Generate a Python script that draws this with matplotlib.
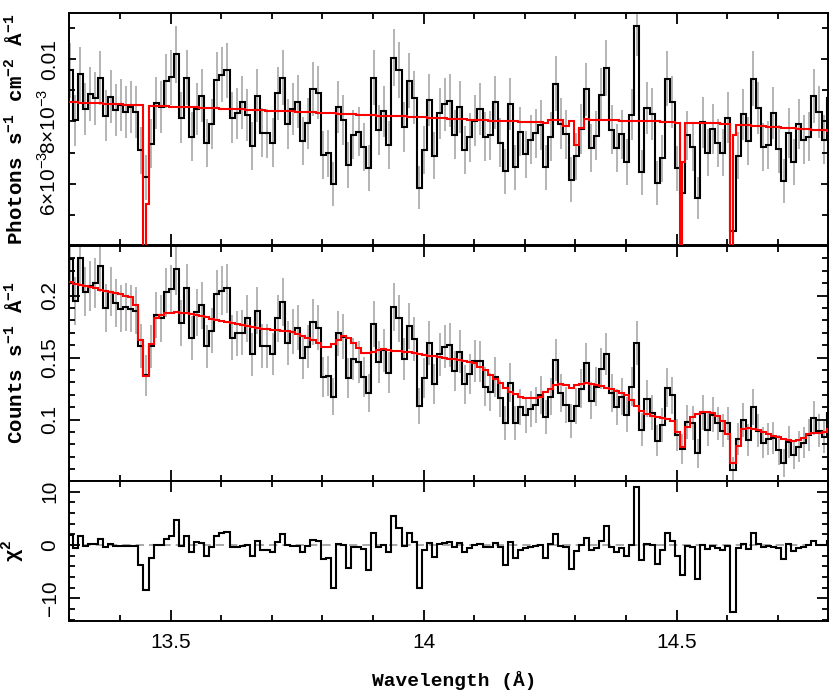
import numpy as np
import matplotlib
matplotlib.use("Agg")
import matplotlib.pyplot as plt
from matplotlib.ticker import FixedLocator, MultipleLocator

plt.rcParams['font.family'] = ['Liberation Sans', 'DejaVu Sans']
plt.rcParams['mathtext.fontset'] = 'custom'
plt.rcParams['mathtext.rm'] = 'Liberation Mono:bold'
plt.rcParams['mathtext.sf'] = 'Liberation Sans'

# wavelength grid: 0.01 A bins, first edge just left of 13.3
lam_first_edge = 13.2966
bin_width = 0.01

# unfolded spectrum (photons/s/cm2/A)
top_flux = [
    0.00964, 0.00804, 0.00952, 0.00841, 0.00888, 0.00875, 0.00940, 0.00819, 0.00880, 0.00838,
    0.00852, 0.00830, 0.00847, 0.00830, 0.00707, 0.00620, 0.00729, 0.00859, 0.00846, 0.00930,
    0.00942, 0.01016, 0.00812, 0.00941, 0.00751, 0.00839, 0.00883, 0.00730, 0.00791, 0.00934,
    0.00950, 0.00964, 0.00812, 0.00826, 0.00861, 0.00821, 0.00721, 0.00883, 0.00764, 0.00762,
    0.00732, 0.00890, 0.00941, 0.00792, 0.00840, 0.00864, 0.00737, 0.00794, 0.00905, 0.00893,
    0.00692, 0.00698, 0.00598, 0.00845, 0.00805, 0.00660, 0.00757, 0.00767, 0.00719, 0.00650,
    0.00941, 0.00773, 0.00832, 0.00725, 0.01005, 0.00966, 0.00781, 0.00931, 0.00877, 0.00587,
    0.00708, 0.00869, 0.00689, 0.00826, 0.00855, 0.00867, 0.00757, 0.00845, 0.00708, 0.00749,
    0.00802, 0.00839, 0.00751, 0.00755, 0.00861, 0.00732, 0.00639, 0.00856, 0.00652, 0.00767,
    0.00695, 0.00741, 0.00762, 0.00789, 0.00652, 0.00750, 0.00922, 0.00793, 0.00759, 0.00613,
    0.00688, 0.00776, 0.00903, 0.00715, 0.00754, 0.00886, 0.00972, 0.00774, 0.00715, 0.00759,
    0.00670, 0.00822, 0.01107, 0.00636, 0.00842, 0.00824, 0.00603, 0.00681, 0.00938, 0.00862,
    0.00649, 0.00570, 0.00756, 0.00718, 0.00555, 0.00797, 0.00699, 0.00776, 0.00731, 0.00699,
    0.00812, 0.00446, 0.00690, 0.00823, 0.00737, 0.00938, 0.00844, 0.00718, 0.00724, 0.00827,
    0.00712, 0.00609, 0.00763, 0.00669, 0.00791, 0.00741, 0.00750, 0.00882, 0.00831, 0.00741,
    0.00874]

top_model = [
    0.00862, 0.00861, 0.00860, 0.00860, 0.00859, 0.00858, 0.00858, 0.00857, 0.00856, 0.00856,
    0.00855, 0.00854, 0.00854, 0.00853, 0.00852, 0.00852, 0.00851, 0.00850, 0.00850, 0.00849,
    0.00848, 0.00848, 0.00847, 0.00846, 0.00846, 0.00845, 0.00844, 0.00844, 0.00843, 0.00842,
    0.00841, 0.00841, 0.00840, 0.00839, 0.00839, 0.00838, 0.00837, 0.00837, 0.00836, 0.00835,
    0.00835, 0.00834, 0.00833, 0.00833, 0.00832, 0.00831, 0.00830, 0.00830, 0.00829, 0.00828,
    0.00828, 0.00827, 0.00826, 0.00825, 0.00825, 0.00824, 0.00823, 0.00822, 0.00822, 0.00821,
    0.00820, 0.00819, 0.00819, 0.00818, 0.00817, 0.00816, 0.00816, 0.00815, 0.00814, 0.00813,
    0.00813, 0.00812, 0.00811, 0.00810, 0.00810, 0.00809, 0.00808, 0.00808, 0.00807, 0.00806,
    0.00805, 0.00805, 0.00804, 0.00803, 0.00803, 0.00802, 0.00801, 0.00800, 0.00800, 0.00799,
    0.00798, 0.00798, 0.00797, 0.00797, 0.00796, 0.00806, 0.00806, 0.00806, 0.00786, 0.00803,
    0.00724, 0.00778, 0.00807, 0.00806, 0.00806, 0.00805, 0.00805, 0.00804, 0.00804, 0.00803,
    0.00803, 0.00802, 0.00802, 0.00801, 0.00801, 0.00800, 0.00800, 0.00799, 0.00799, 0.00798,
    0.00795, 0.00795, 0.00795, 0.00795, 0.00795, 0.00794, 0.00794, 0.00794, 0.00794, 0.00793,
    0.00793, 0.00793, 0.00789, 0.00788, 0.00787, 0.00786, 0.00785, 0.00784, 0.00783, 0.00782,
    0.00781, 0.00780, 0.00779, 0.00778, 0.00777, 0.00776, 0.00775, 0.00774, 0.00772, 0.00771,
    0.00769]

# the narrow absorption lines are resolved in half bins
line_bins = [15, 121, 131]
line_first_half = [0.0030, 0.0030, 0.0030]
line_second_half = [0.00535, 0.00669, 0.00757]

# count-rate spectrum (counts/s/A)
mid_rate = [
    0.2297, 0.1958, 0.2303, 0.2029, 0.2077, 0.2103, 0.2239, 0.1900, 0.2029, 0.1942,
    0.1894, 0.1910, 0.1894, 0.1877, 0.1594, 0.1355, 0.1590, 0.1843, 0.1815, 0.2025,
    0.2050, 0.2210, 0.1775, 0.2057, 0.1655, 0.1865, 0.1920, 0.1590, 0.1716, 0.2012,
    0.2039, 0.2058, 0.1660, 0.1695, 0.1700, 0.1816, 0.1526, 0.1878, 0.1593, 0.1593,
    0.1528, 0.1816, 0.1950, 0.1620, 0.1708, 0.1741, 0.1499, 0.1587, 0.1789, 0.1741,
    0.1340, 0.1351, 0.1184, 0.1695, 0.1668, 0.1337, 0.1485, 0.1464, 0.1345, 0.1211,
    0.1767, 0.1466, 0.1560, 0.1378, 0.1910, 0.1816, 0.1488, 0.1754, 0.1649, 0.1109,
    0.1332, 0.1620, 0.1286, 0.1526, 0.1587, 0.1601, 0.1390, 0.1547, 0.1284, 0.1367,
    0.1473, 0.1468, 0.1265, 0.1224, 0.1345, 0.1171, 0.0975, 0.1297, 0.0975, 0.1103,
    0.1036, 0.1082, 0.1117, 0.1198, 0.1020, 0.1184, 0.1481, 0.1216, 0.1119, 0.0990,
    0.1110, 0.1248, 0.1452, 0.1152, 0.1265, 0.1410, 0.1529, 0.1216, 0.1103, 0.1184,
    0.1039, 0.1265, 0.1619, 0.0916, 0.1168, 0.1055, 0.0829, 0.0958, 0.1258, 0.1194,
    0.0877, 0.0760, 0.0981, 0.0974, 0.0726, 0.1055, 0.0916, 0.1039, 0.0968, 0.0910,
    0.0968, 0.0593, 0.0845, 0.0997, 0.0835, 0.1103, 0.0910, 0.0813, 0.0845, 0.0852,
    0.0755, 0.0652, 0.0819, 0.0716, 0.0781, 0.0813, 0.0877, 0.1013, 0.0910, 0.0861,
    0.1055]

mid_model = [
    0.2106, 0.2096, 0.2087, 0.2077, 0.2068, 0.2058, 0.2048, 0.2039, 0.2029, 0.2020,
    0.2010, 0.2000, 0.1991, 0.1923, 0.1641, 0.1350, 0.1609, 0.1821, 0.1843, 0.1856,
    0.1862, 0.1864, 0.1862, 0.1856, 0.1851, 0.1843, 0.1835, 0.1824, 0.1813, 0.1802,
    0.1794, 0.1784, 0.1776, 0.1767, 0.1759, 0.1751, 0.1743, 0.1738, 0.1733, 0.1727,
    0.1722, 0.1720, 0.1716, 0.1711, 0.1706, 0.1690, 0.1671, 0.1655, 0.1641, 0.1620,
    0.1587, 0.1587, 0.1609, 0.1641, 0.1673, 0.1660, 0.1614, 0.1574, 0.1534, 0.1534,
    0.1547, 0.1560, 0.1566, 0.1560, 0.1555, 0.1552, 0.1547, 0.1542, 0.1534, 0.1528,
    0.1520, 0.1515, 0.1512, 0.1504, 0.1499, 0.1491, 0.1485, 0.1480, 0.1474, 0.1464,
    0.1453, 0.1426, 0.1399, 0.1359, 0.1324, 0.1292, 0.1251, 0.1224, 0.1206, 0.1179,
    0.1176, 0.1176, 0.1176, 0.1184, 0.1220, 0.1250, 0.1281, 0.1290, 0.1281, 0.1258,
    0.1277, 0.1290, 0.1294, 0.1287, 0.1277, 0.1268, 0.1258, 0.1245, 0.1232, 0.1216,
    0.1194, 0.1161, 0.1110, 0.1071, 0.1045, 0.1029, 0.1019, 0.1010, 0.1003, 0.0990,
    0.0903, 0.0781, 0.0940, 0.1020, 0.1045, 0.1058, 0.1058, 0.1050, 0.1030, 0.0990,
    0.0880, 0.0650, 0.0790, 0.0925, 0.0935, 0.0926, 0.0915, 0.0900, 0.0885, 0.0870,
    0.0858, 0.0845, 0.0835, 0.0830, 0.0835, 0.0850, 0.0880, 0.0888, 0.0895, 0.0900,
    0.0920]

# signed chi^2 contribution per bin
chi_sq = [
    1.9, -0.5, 1.7, -0.1, 0.1, 0.2, 1.2, -0.4, 0.1, -0.2,
    -0.1, -0.1, -0.1, -0.1, -3.8, -8.4, -2.5, 0.0, 0.0, 1.1,
    1.6, 4.7, -0.2, 1.7, -1.3, 0.6, 0.4, -2.1, -0.3, 1.6,
    2.2, 2.5, -0.4, -0.3, -0.2, 0.0, -2.1, 0.8, -0.9, -0.9,
    -1.4, 0.5, 2.1, 0.0, -0.2, -0.2, -1.3, -0.2, 0.9, 0.8,
    -2.7, -2.5, -8.0, 0.2, 0.0, -4.3, -0.4, -0.3, -0.8, -4.6,
    2.3, -0.4, 0.0, -1.4, 5.4, 3.1, -0.2, 2.2, 0.5, -8.0,
    -0.9, 0.4, -2.3, 0.2, 0.3, 0.6, -0.4, 0.3, -1.4, -0.5,
    0.0, 0.2, -0.3, -0.3, 0.3, -0.4, -3.8, 0.6, -2.5, -0.9,
    -0.5, -0.3, -0.1, 0.0, -2.5, 0.2, 2.0, -0.1, -0.4, -4.5,
    -1.1, 0.0, 1.3, -1.0, -0.5, 0.8, 3.5, -0.3, -1.4, -0.5,
    -2.0, 0.0, 10.8, -2.8, 0.2, 0.0, -3.5, -0.9, 2.2, 0.7,
    -2.0, -5.7, -0.2, -0.3, -6.3, 0.0, -0.8, -0.2, -0.5, -1.0,
    -0.2, -12.6, -0.5, 0.2, -0.8, 2.3, 0.2, -0.3, -0.2, -0.4,
    -0.5, -2.6, 0.2, -1.2, -0.5, -0.4, 0.0, 0.8, 0.0, 0.0,
    0.8]

# poisson-like error scale for the two spectra
top_err_scale = 0.0091
mid_err_scale = 0.044

top_ticks = [0.006, 0.008, 0.010]
top_ticklabels = [r'6×10$^{\mathsf{-3}}$', r'8×10$^{\mathsf{-3}}$', '0.01']
mid_ticks = [0.1, 0.15, 0.2]
mid_ticklabels = ['0.1', '0.15', '0.2']
chi_ticks = [-10, 0, 10]
chi_ticklabels = ['\u221210', '0', '10']
wl_ticks = [13.5, 14.0, 14.5]
wl_ticklabels = ['13.5', '14', '14.5']

n = len(mid_rate)
edges = lam_first_edge + bin_width * np.arange(n + 1)
centers = 0.5 * (edges[:-1] + edges[1:])

top_flux = np.array(top_flux)
mid_rate = np.array(mid_rate)
top_err = top_err_scale * np.sqrt(top_flux)
mid_err = mid_err_scale * np.sqrt(mid_rate)

# top model on the half-bin grid
half_edges = lam_first_edge + 0.5 * bin_width * np.arange(2 * n + 1)
top_model_half = np.repeat(np.array(top_model), 2)
for b, v1, v2 in zip(line_bins, line_first_half, line_second_half):
    top_model_half[2 * b] = v1
    top_model_half[2 * b + 1] = v2

fig = plt.figure(figsize=(8.3, 6.95), dpi=100)
ax_top = fig.add_axes([0.0835, 0.6468, 0.9145, 0.3350])
ax_mid = fig.add_axes([0.0835, 0.3086, 0.9145, 0.3381])
ax_chi = fig.add_axes([0.0835, 0.1069, 0.9145, 0.2017])

errcol = '#b4b4b4'
ax_top.vlines(centers, top_flux - top_err, top_flux + top_err, color=errcol, lw=1.4, zorder=1)
ax_top.stairs(top_flux, edges, color='k', lw=1.5, baseline=None, zorder=2)
ax_top.stairs(top_model_half, half_edges, color='red', lw=1.5, baseline=None, zorder=3)

ax_mid.vlines(centers, mid_rate - mid_err, mid_rate + mid_err, color=errcol, lw=1.4, zorder=1)
ax_mid.stairs(mid_rate, edges, color='k', lw=1.5, baseline=None, zorder=2)
ax_mid.stairs(mid_model, edges, color='red', lw=1.5, baseline=None, zorder=3)

ax_chi.axhline(0, color='#999999', lw=1.2, ls=(0, (5, 3)), zorder=1)
ax_chi.stairs(chi_sq, edges, color='k', lw=1.5, baseline=None, zorder=2)

ax_top.set_ylim(0.00401, 0.0115)
ax_mid.set_ylim(0.0508, 0.2403)
ax_chi.set_ylim(-14.2, 12.1)

label_font = dict(family='Liberation Mono', weight='bold', size=15)

for ax in (ax_top, ax_mid, ax_chi):
    ax.set_xlim(13.3, 14.8)
    ax.xaxis.set_major_locator(FixedLocator(wl_ticks))
    ax.xaxis.set_minor_locator(MultipleLocator(0.1))
    ax.tick_params(which='both', direction='in', top=True, right=True, width=1.3,
                   labelsize=15)
    ax.tick_params(which='major', length=8)
    ax.tick_params(which='minor', length=4.5)
    ax.tick_params(axis='y', labelrotation=90, pad=7)
    for s in ax.spines.values():
        s.set_linewidth(1.4)
    if ax is not ax_chi:
        ax.tick_params(labelbottom=False)

ax_top.yaxis.set_major_locator(FixedLocator(top_ticks))
ax_top.yaxis.set_minor_locator(MultipleLocator(0.001))
ax_top.set_yticklabels(top_ticklabels, va='center')
ax_top.tick_params(axis='y', which='major', length=5)

ax_mid.yaxis.set_major_locator(FixedLocator(mid_ticks))
ax_mid.yaxis.set_minor_locator(MultipleLocator(0.01))
ax_mid.set_yticklabels(mid_ticklabels, va='center')

ax_chi.yaxis.set_major_locator(FixedLocator(chi_ticks))
ax_chi.yaxis.set_minor_locator(MultipleLocator(2))
ax_chi.set_yticklabels(chi_ticklabels, va='center')
ax_chi.set_xticklabels(wl_ticklabels)
ax_chi.tick_params(axis='x', pad=9)

ax_top.set_ylabel(r'Photons s$^{-1}$ cm$^{-2}$ Å$^{-1}$', fontdict=label_font)
ax_mid.set_ylabel(r'Counts s$^{-1}$ Å$^{-1}$', fontdict=label_font)
ax_chi.set_ylabel(r'χ$^{2}$', fontdict=label_font)
for ax in (ax_top, ax_mid, ax_chi):
    ax.yaxis.set_label_coords(-0.056, 0.5)

ax_chi.set_xlabel('Wavelength (Å)', fontdict=dict(family='Liberation Mono', weight='bold', size=14))
ax_chi.xaxis.set_label_coords(0.507, -0.36)

fig.savefig('out.png', dpi=100)
